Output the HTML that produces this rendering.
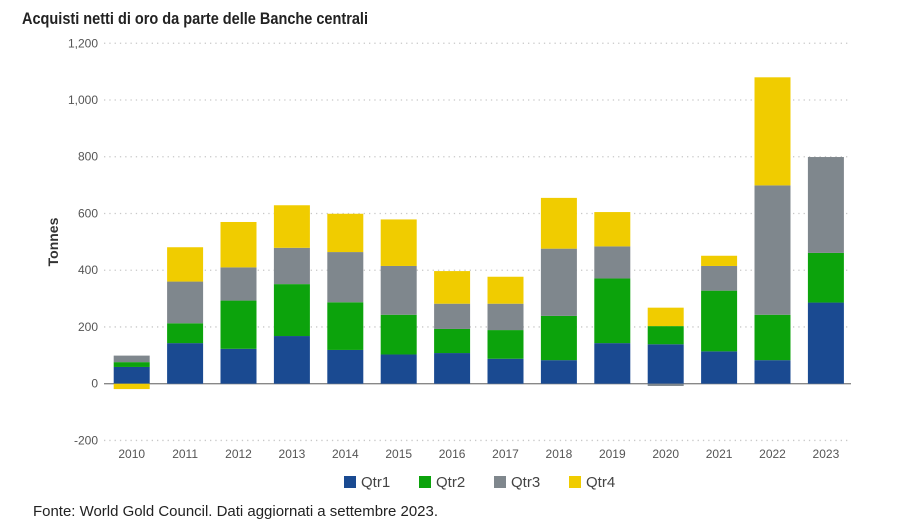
<!DOCTYPE html>
<html><head><meta charset="utf-8"><style>
html,body{margin:0;padding:0;background:#fff;}
body{width:900px;height:527px;overflow:hidden;font-family:"Liberation Sans",sans-serif;}
</style></head><body>
<svg id="chart" width="900" height="527" xmlns="http://www.w3.org/2000/svg">
<rect x="0" y="0" width="900" height="527" fill="#fff"/>
<text x="22" y="24" font-family="'Liberation Sans Narrow','Liberation Sans',sans-serif" font-weight="bold" font-size="17" fill="#222" textLength="346" lengthAdjust="spacingAndGlyphs">Acquisti netti di oro da parte delle Banche centrali</text>
<text transform="translate(58,242) rotate(-90)" text-anchor="middle" font-size="14" font-weight="bold" fill="#333">Tonnes</text>
<g id="grid"></g><g id="bars"></g><g id="xlabels"></g>
<g id="legend"></g>
<text x="33" y="516" font-family="'Liberation Sans Narrow','Liberation Sans',sans-serif" font-size="15" fill="#222" textLength="405" lengthAdjust="spacingAndGlyphs">Fonte: World Gold Council. Dati aggiornati a settembre 2023.</text>
</svg>
<script>
const years=["2010","2011","2012","2013","2014","2015","2016","2017","2018","2019","2020","2021","2022","2023"];
const qtr1=[59,143,123,168,119,103,108,88,83,143,139,114,83,286];
const qtr2=[17,70,170,183,168,140,85,101,156,228,64,214,160,175];
const qtr3=[23,147,117,128,177,172,89,93,237,113,-8,87,456,338];
const qtr4=[-19,121,160,150,135,164,115,95,179,121,65,36,381,0];
const yTicks=[-200,0,200,400,600,800,1000,1200];
const seriesNames=["Qtr1","Qtr2","Qtr3","Qtr4"];
const colors=["#1a4a91","#0ca30c","#7f878d","#f0cc00"];
const NS="http://www.w3.org/2000/svg";
const y0=383.7,k=0.2837;
function yS(v){return y0-v*k;}
function xS(i){return 131.7+i*53.4;}
const bw=36;
const grid=document.getElementById('grid');
yTicks.forEach(t=>{
  const l=document.createElementNS(NS,'line');
  
  
  l.setAttribute('x1',104);l.setAttribute('x2',851);
  l.setAttribute('y1',yS(t));l.setAttribute('y2',yS(t));
  l.setAttribute('stroke',t===0?'#888':'#c8c8c8');
  l.setAttribute('stroke-width',1.3);
  if(t!==0)l.setAttribute('stroke-dasharray','1.3,4');
  grid.appendChild(l);
  const tx=document.createElementNS(NS,'text');
  
  
  tx.setAttribute('x',98);tx.setAttribute('y',yS(t)+4);
  tx.setAttribute('text-anchor','end');tx.setAttribute('font-size','12');tx.setAttribute('fill','#555');
  tx.textContent=t.toLocaleString('en-US');
  grid.appendChild(tx);
});
const bars=document.getElementById('bars');
const series=[qtr1,qtr2,qtr3,qtr4];
years.forEach((yr,i)=>{
  let pos=0,neg=0;
  series.forEach((s,j)=>{
    const v=s[i]; if(!v)return;
    let a,b;
    if(v>=0){a=pos;b=pos+v;pos=b;}else{a=neg;b=neg+v;neg=b;}
    const r=document.createElementNS(NS,'rect');
    
    
    r.setAttribute('x',xS(i)-bw/2);r.setAttribute('width',bw);
    r.setAttribute('y',Math.min(yS(a),yS(b)));r.setAttribute('height',Math.abs(yS(a)-yS(b)));
    r.setAttribute('fill',colors[j]);
    bars.appendChild(r);
  });
  const tx=document.createElementNS(NS,'text');
  
  
  tx.setAttribute('x',xS(i));tx.setAttribute('y',458);
  tx.setAttribute('text-anchor','middle');tx.setAttribute('font-size','12');tx.setAttribute('fill','#555');
  tx.textContent=yr;
  document.getElementById('xlabels').appendChild(tx);
});
const lg=document.getElementById('legend');
const lx=[344,419,494,569];
seriesNames.forEach((n,j)=>{
  const r=document.createElementNS(NS,'rect');
  
  
  r.setAttribute('x',lx[j]);r.setAttribute('y',476);r.setAttribute('width',12);r.setAttribute('height',12);
  r.setAttribute('fill',colors[j]);lg.appendChild(r);
  const t=document.createElementNS(NS,'text');
  
  
  t.setAttribute('x',lx[j]+17);t.setAttribute('y',487);t.setAttribute('font-size','15');t.setAttribute('fill','#444');
  t.textContent=n;lg.appendChild(t);
});
</script>
</body></html>
